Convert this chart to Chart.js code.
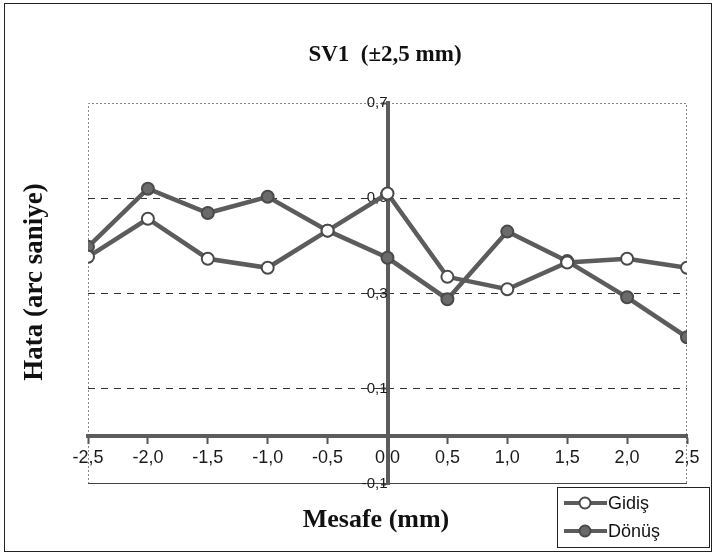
<!DOCTYPE html>
<html>
<head>
<meta charset="utf-8">
<title>SV1 (±2,5 mm)</title>
<script src="https://cdn.jsdelivr.net/npm/chart.js"></script>
<style>
  html, body { margin: 0; padding: 0; background: #fff; }
  canvas { display: block; }
</style>
</head>
<body>
<canvas id="chart" width="715" height="555"></canvas>
<script>
// values
const positions = [-2.5, -2.0, -1.5, -1.0, -0.5, 0.0, 0.5, 1.0, 1.5, 2.0, 2.5];
const gidis = [0.377, 0.457, 0.373, 0.354, 0.432, 0.510, 0.335, 0.309, 0.365, 0.373, 0.354];
const donus = [0.398, 0.520, 0.469, 0.503, 0.432, 0.375, 0.288, 0.430, 0.368, 0.292, 0.208];

const xTicks = [-2.5, -2.0, -1.5, -1.0, -0.5, 0.0, 0.5, 1.0, 1.5, 2.0, 2.5];
const xTickLabels = ['-2,5', '-2,0', '-1,5', '-1,0', '-0,5', '0,0', '0,5', '1,0', '1,5', '2,0', '2,5'];
const yTicks = [-0.1, 0.1, 0.3, 0.5, 0.7];
const yTickLabels = ['-0,1', '0,1', '0,3', '0,5', '0,7'];
const dashedAt = [0.1, 0.3, 0.5];

const SERIF = "'Liberation Serif', 'DejaVu Serif', serif";
const SANS = "'Liberation Sans', Arial, sans-serif";
const LINE = '#5c5c5c';

const pts = arr => positions.map((x, i) => ({ x, y: arr[i] }));

// titles, frames and legend drawn around the plot
const decor = {
  id: 'decor',
  beforeDraw(chart) {
    const { ctx, chartArea: a } = chart;
    ctx.save();
    ctx.strokeStyle = '#222';
    ctx.lineWidth = 1;
    ctx.strokeRect(4.5, 3.5, 707, 548);
    ctx.strokeStyle = '#888';
    ctx.setLineDash([2, 2]);
    ctx.beginPath();
    ctx.moveTo(a.left + 0.5, a.bottom);
    ctx.lineTo(a.left + 0.5, a.top + 0.5);
    ctx.lineTo(a.right - 0.5, a.top + 0.5);
    ctx.lineTo(a.right - 0.5, a.bottom);
    ctx.stroke();
    ctx.setLineDash([]);
    ctx.strokeStyle = '#444';
    ctx.beginPath();
    ctx.moveTo(a.left, a.bottom - 0.5);
    ctx.lineTo(a.right, a.bottom - 0.5);
    ctx.stroke();
    ctx.restore();
  },
  afterDraw(chart) {
    const { ctx } = chart;
    ctx.save();
    ctx.fillStyle = '#111';
    ctx.textAlign = 'center';
    ctx.textBaseline = 'middle';
    ctx.font = 'bold 23px ' + SERIF;
    ctx.fillText('SV1  (±2,5 mm)', 385, 55);
    ctx.font = 'bold 26px ' + SERIF;
    ctx.fillText('Mesafe (mm)', 376, 520);
    ctx.translate(35, 282);
    ctx.rotate(-Math.PI / 2);
    ctx.font = 'bold 27px ' + SERIF;
    ctx.fillText('Hata (arc saniye)', 0, 0);
    ctx.restore();

    // legend
    ctx.save();
    ctx.strokeStyle = '#222';
    ctx.lineWidth = 1;
    ctx.strokeRect(557.5, 487.5, 152, 60);
    const items = [
      { label: 'Gidiş', fill: '#fff', y: 503 },
      { label: 'Dönüş', fill: '#6a6a6a', y: 531 }
    ];
    items.forEach(it => {
      ctx.strokeStyle = LINE;
      ctx.lineWidth = 4;
      ctx.beginPath();
      ctx.moveTo(564, it.y);
      ctx.lineTo(607, it.y);
      ctx.stroke();
      ctx.beginPath();
      ctx.arc(585, it.y, 5.5, 0, Math.PI * 2);
      ctx.fillStyle = it.fill;
      ctx.fill();
      ctx.lineWidth = 2;
      ctx.strokeStyle = '#4a4a4a';
      ctx.stroke();
      ctx.fillStyle = '#111';
      ctx.font = '18px ' + SANS;
      ctx.textAlign = 'left';
      ctx.textBaseline = 'middle';
      ctx.fillText(it.label, 608, it.y + 1);
    });
    ctx.restore();
  }
};

new Chart(document.getElementById('chart').getContext('2d'), {
  type: 'line',
  data: {
    datasets: [
      {
        label: 'Gidiş',
        data: pts(gidis),
        borderColor: LINE,
        borderWidth: 4.5,
        pointRadius: 6,
        pointBorderWidth: 2,
        pointBackgroundColor: '#fff',
        pointBorderColor: '#4a4a4a',
        tension: 0
      },
      {
        label: 'Dönüş',
        data: pts(donus),
        borderColor: LINE,
        borderWidth: 4.5,
        pointRadius: 6,
        pointBorderWidth: 2,
        pointBackgroundColor: '#6a6a6a',
        pointBorderColor: '#4a4a4a',
        tension: 0
      }
    ]
  },
  options: {
    responsive: false,
    animation: false,
    devicePixelRatio: 1,
    layout: { padding: { left: 88, right: 28, top: 103, bottom: 71 } },
    plugins: { legend: { display: false }, tooltip: { enabled: false }, title: { display: false } },
    scales: {
      x: {
        type: 'linear',
        min: -2.5,
        max: 2.5,
        position: { y: 0 },
        afterBuildTicks: s => { s.ticks = xTicks.map(v => ({ value: v })); },
        ticks: {
          autoSkip: false,
          maxRotation: 0,
          padding: 5,
          color: '#1a1a1a',
          font: { family: SANS, size: 18 },
          callback: (v, i) => xTickLabels[i]
        },
        grid: { drawOnChartArea: false, drawTicks: true, tickLength: 6, tickWidth: 2, tickColor: '#555' },
        border: { display: true, color: LINE, width: 4 }
      },
      y: {
        type: 'linear',
        min: -0.1,
        max: 0.7,
        position: { x: 0 },
        afterBuildTicks: s => { s.ticks = yTicks.map(v => ({ value: v })); },
        ticks: {
          autoSkip: false,
          padding: 2,
          color: '#1a1a1a',
          font: { family: SANS, size: 15 },
          callback: (v, i) => yTickLabels[i]
        },
        grid: {
          drawTicks: true,
          tickLength: 5,
          tickWidth: 2,
          tickColor: '#555',
          lineWidth: 1,
          color: c => (c.tick && dashedAt.some(d => Math.abs(d - c.tick.value) < 1e-6)) ? '#333' : 'rgba(0,0,0,0)'
        },
        border: { display: true, color: LINE, width: 4, dash: [7, 6] }
      }
    }
  },
  plugins: [decor]
});
</script>
</body>
</html>
